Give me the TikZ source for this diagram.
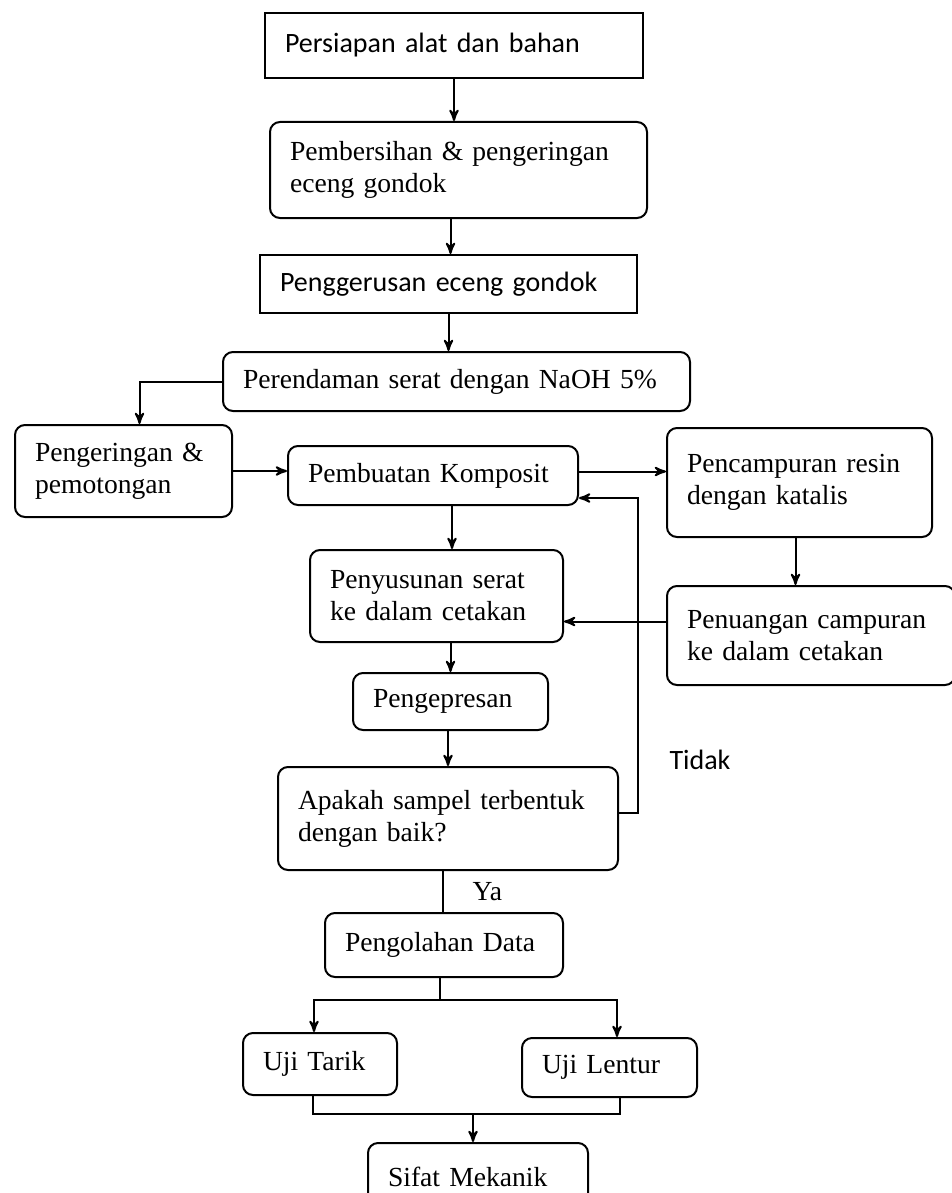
\documentclass[tikz,border=0pt]{standalone}
\usepackage{fontspec}
\setmainfont{Liberation Serif}
\newfontfamily\calibri{Carlito}
\usetikzlibrary{positioning,arrows}

\begin{document}
\begin{tikzpicture}[x=0.5pt,y=-0.5pt,on grid,auto,->,>=stealth',line width=1pt,
		proc/.style={draw,rounded corners=5pt,inner xsep=10pt,inner ysep=0pt,align=left,font=\fontsize{13.8}{16}\selectfont},
		sqproc/.style={proc,rounded corners=0pt,font=\calibri\fontsize{14}{16}\selectfont}]
		\useasboundingbox (0,0) rectangle (952,1193);

		\node[sqproc,text width=169pt,minimum height=32.5pt](s_1) at (454,45.5){Persiapan alat dan bahan};
		\node[proc,text width=168.5pt,minimum height=48pt](s_2)[below right=62.25pt and 2.25pt of s_1]{Pembersihan \& pengeringan\\eceng gondok};
		\node[sqproc,text width=168.5pt,minimum height=29pt](s_3)[below left=57pt and 5pt of s_2]{Penggerusan eceng gondok};
		\node[proc,text width=213.5pt,minimum height=29.5pt](s_4)[below right=48.75pt and 4pt of s_3]{Perendaman serat dengan NaOH 5\%};
		\node[proc,text width=125pt,minimum height=29.5pt](s_6)[below left=47pt and 11.75pt of s_4]{Pembuatan Komposit};
		\node[proc,text width=88.5pt,minimum height=46pt](s_5)[above left=2.25pt and 154.75pt of s_6]{Pengeringan \&\\pemotongan};
		\node[proc,text width=112.5pt,minimum height=54.5pt](s_7)[below right=3.5pt and 183.25pt of s_6]{Pencampuran resin\\dengan katalis};
		\node[proc,text width=124pt,minimum height=49.5pt](s_8)[below right=76.5pt and 5.75pt of s_7]{Penuangan campuran\\ke dalam cetakan};
		\node[proc,text width=106.5pt,minimum height=46pt](s_9)[below right=60.25pt and 1.75pt of s_6]{Penyusunan serat\\ke dalam cetakan};
		\node[proc,text width=77.5pt,minimum height=28.5pt](s_10)[below right=52.75pt and 7pt of s_9]{Pengepresan};
		\node[proc,text width=150pt,minimum height=51.5pt](s_11)[below left=58.5pt and 1.25pt of s_10]{Apakah sampel terbentuk\\dengan baik?};
		\node[proc,text width=99pt,minimum height=32pt](s_12)[below left=63.25pt and 2pt of s_11]{Pengolahan Data};
		\node[proc,text width=57pt,minimum height=31pt](s_13)[below left=59.5pt and 62pt of s_12]{Uji Tarik};
		\node[proc,text width=67.5pt,minimum height=29.5pt](s_14)[below right=61.25pt and 82.75pt of s_12]{Uji Lentur};
		\node[proc,text width=90pt,minimum height=34pt](s_15)[below right=116pt and 17pt of s_12]{Sifat Mekanik};
		\node[font=\calibri\fontsize{14}{16}\selectfont](tidak)[above right=29.25pt and 126pt of s_11]{Tidak};

		\path
		(s_1.south) edge (s_1.south |- s_2.north)
		([xshift=-4pt]s_2.south) edge ([xshift=-4pt]s_2.south |- s_3.north)
		(s_3.south) edge (s_3.south |- s_4.north)
		(s_5.east) edge (s_5.east -| s_6.west)
		([yshift=2pt]s_6.east) edge ([yshift=2pt]s_6.east -| s_7.west)
		([xshift=-2pt]s_7.south) edge ([xshift=-2pt]s_7.south |- s_8.north)
		([yshift=7pt]s_8.west) edge ([yshift=7pt]s_8.west -| s_9.east)
		([xshift=9.5pt]s_6.south) edge ([xshift=9.5pt]s_6.south |- s_9.north)
		(s_10.north |- s_9.south) edge (s_10.north)
		(s_11.north |- s_10.south) edge (s_11.north);

		\draw (s_4.west) -| ([xshift=8pt]s_5.north);
		\draw ([yshift=3pt]s_11.east) -- ++(9.5pt,0) |- ([yshift=-11.25pt]s_6.east);
		\draw[-] ([xshift=-2.5pt]s_11.south) -- ([xshift=-2.5pt]s_11.south |- s_12.north) node[midway,right=11pt]{\fontsize{13.8}{16}\selectfont Ya};

		% cabang ke dua pengujian
		\draw[-] ([xshift=-2pt]s_12.south) -- ++(0,-11pt) coordinate (fork);
		\draw (fork) -| ([xshift=-3pt]s_13.north);
		\draw (fork) -| ([xshift=3.75pt]s_14.north);
		\draw[-] ([xshift=-3.5pt]s_13.south) -- ++(0,-9pt) coordinate (join) -| ([xshift=5.25pt]s_14.south);
		\draw ([xshift=-2.5pt]s_15.north |- join) -- ([xshift=-2.5pt]s_15.north);
	\end{tikzpicture}
\end{document}
